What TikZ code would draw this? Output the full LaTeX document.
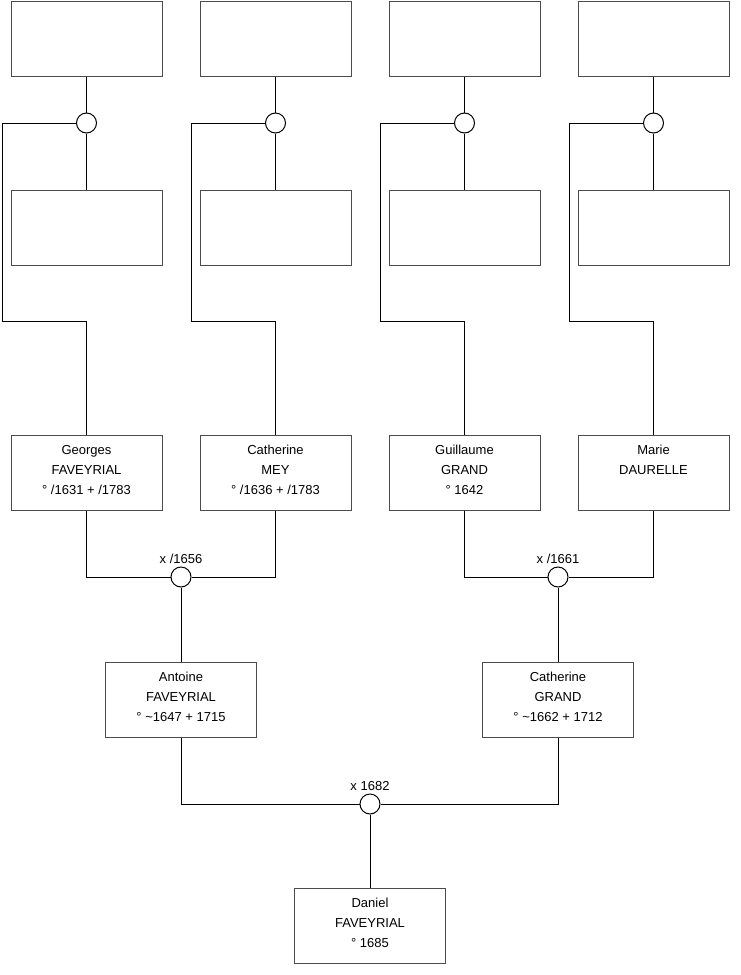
\documentclass[tikz,border=0pt]{standalone}
\usepackage{fontspec}
\setmainfont{Liberation Sans}
\begin{document}
\begin{tikzpicture}[x=1pt,y=-1pt,
  pbox/.style={draw=black!70,line width=1pt,minimum width=151pt,minimum height=75pt,inner sep=0pt,fill=white},
  ptext/.style={anchor=north,inner sep=0pt,align=center,font=\fontsize{13}{20}\selectfont},
  uni/.style={draw=black,line width=1pt,circle,minimum size=20pt,inner sep=0pt,fill=white},
  mlabel/.style={inner sep=0pt,font=\fontsize{13}{15}\selectfont},
  link/.style={draw=black,line width=1pt}]
\useasboundingbox (0,0) rectangle (740,975);
% columns
\foreach \i/\cx in {1/86.5,2/275.5,3/464.5,4/653.5}{
  \node[pbox] (top\i) at (\cx,38.5) {};
  \node[pbox] (mid\i) at (\cx,227.5) {};
}
\node[pbox] (p1) at (86.5,472.5) {};
\node[pbox] (p2) at (275.5,472.5) {};
\node[pbox] (p3) at (464.5,472.5) {};
\node[pbox] (p4) at (653.5,472.5) {};
\node[ptext] (p1t) at ([yshift=-10.5pt]p1.north) {Georges\\FAVEYRIAL\\° /1631 + /1783};
\node[ptext] (p2t) at ([yshift=-10.5pt]p2.north) {Catherine\\MEY\\° /1636 + /1783};
\node[ptext] (p3t) at ([yshift=-10.5pt]p3.north) {Guillaume\\GRAND\\° 1642};
\node[ptext] (p4t) at ([yshift=-10.5pt]p4.north) {Marie\\DAURELLE};
\node[pbox] (c1) at (181,699.5) {};
\node[pbox] (c2) at (558,699.5) {};
\node[ptext] (c1t) at ([yshift=-10.5pt]c1.north) {Antoine\\FAVEYRIAL\\° \textasciitilde1647 + 1715};
\node[ptext] (c2t) at ([yshift=-10.5pt]c2.north) {Catherine\\GRAND\\° \textasciitilde1662 + 1712};
\node[pbox] (d) at (370,925.5) {};
\node[ptext] (dt) at ([yshift=-10.5pt]d.north) {Daniel\\FAVEYRIAL\\° 1685};
% top unions
\foreach \i/\cx/\lx in {1/86.5/2,2/275.5/191,3/464.5/380,4/653.5/569}{
  \node[uni] (u\i) at (\cx,123) {};
  \coordinate (ul\i) at (\lx,123);
  \coordinate (ub\i) at (\lx,321);
  \coordinate (uc\i) at (\cx,321);
  \draw[link] (top\i.south) -- (u\i.north);
  \draw[link] (u\i.south) -- (mid\i.north);
  \draw[link] (u\i.west) -- (ul\i) -- (ub\i) -- (uc\i) -- (p\i.north);
}
% marriages
\node[uni] (m1) at (181,577) {};
\node[uni] (m2) at (558,577) {};
\node[uni] (m3) at (370,804) {};
\node[mlabel,anchor=south] (m1l) at ([yshift=3pt]m1.north) {x /1656};
\node[mlabel,anchor=south] (m2l) at ([yshift=3pt]m2.north) {x /1661};
\node[mlabel,anchor=south] (m3l) at ([yshift=3pt]m3.north) {x 1682};
\draw[link] (p1.south) |- (m1.west);
\draw[link] (p2.south) |- (m1.east);
\draw[link] (p3.south) |- (m2.west);
\draw[link] (p4.south) |- (m2.east);
\draw[link] (m1.south) -- (c1.north);
\draw[link] (m2.south) -- (c2.north);
\draw[link] (c1.south) |- (m3.west);
\draw[link] (c2.south) |- (m3.east);
\draw[link] (m3.south) -- (d.north);
\end{tikzpicture}
\end{document}
